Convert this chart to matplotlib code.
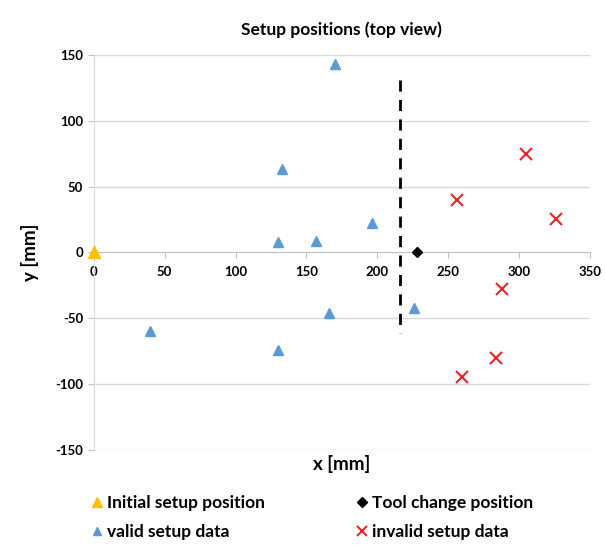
import matplotlib
matplotlib.use("Agg")
from matplotlib import pyplot as plt

plt.rcParams['font.family'] = ['Lato', 'DejaVu Sans']
plt.rcParams['font.weight'] = 'bold'
plt.rcParams['axes.unicode_minus'] = False

# setup positions
initial_x = [0]
initial_y = [0]
tool_x = [228]
tool_y = [0]
valid_x = [170, 133, 130, 157, 196, 40, 130, 166, 226]
valid_y = [143, 63, 8, 9, 22, -60, -74, -46, -42]
invalid_x = [305, 256, 326, 288, 284, 260]
invalid_y = [75, 40, 25, -28, -80, -95]
limit_x = [216, 216]
limit_y = [131, -61]

x_ticks = [0, 50, 100, 150, 200, 250, 300, 350]
y_ticks = [-150, -100, -50, 0, 50, 100, 150]

fig = plt.figure(figsize=(6.05, 5.48), dpi=100)
ax = fig.add_axes([0.155, 0.179, 0.82, 0.721])

for yv in y_ticks:
    if yv != 0:
        ax.axhline(yv, color='#d9d9d9', lw=1, zorder=0)

ax.plot(limit_x, limit_y, color='black', lw=2, ls=(0, (4, 3)), zorder=2)

h_init, = ax.plot(initial_x, initial_y, ls='none', marker='^', ms=8, color='#ffc000',
                  label='Initial setup position', zorder=4, clip_on=False)
h_valid, = ax.plot(valid_x, valid_y, ls='none', marker='^', ms=7, color='#5b9bd5',
                   label='valid setup data', zorder=3)
h_tool, = ax.plot(tool_x, tool_y, ls='none', marker='D', ms=5.5, color='black',
                  label='Tool change position', zorder=3)
h_inv, = ax.plot(invalid_x, invalid_y, ls='none', marker='x', ms=9, mew=1.5, color='#e8252b',
                 label='invalid setup data', zorder=3)

ax.set_xlim(0, 350)
ax.set_ylim(-150, 150)
ax.set_xticks(x_ticks)
ax.set_yticks(y_ticks)

ax.spines['top'].set_visible(False)
ax.spines['right'].set_visible(False)
ax.spines['bottom'].set_position(('data', 0))
ax.spines['bottom'].set_color('#bfbfbf')
ax.spines['left'].set_color('#d9d9d9')
ax.tick_params(axis='both', length=4, color='#bfbfbf', labelsize=9.5)
ax.tick_params(axis='x', pad=6)

ax.set_title('Setup positions (top view)', fontsize=12.5, fontweight='bold', pad=14)
ax.set_xlabel('x [mm]', fontsize=13.5, fontweight='bold')
ax.set_ylabel('y [mm]', fontsize=13.5, fontweight='bold')
ax.xaxis.set_label_coords(0.5, -0.012)
ax.yaxis.set_label_coords(-0.11, 0.5)

fig.legend(handles=[h_init, h_valid, h_tool, h_inv], ncol=2, loc='upper left',
           bbox_to_anchor=(0.12, 0.125), frameon=False, fontsize=12.5, markerscale=0.85,
           handletextpad=0.1, handlelength=1.0, columnspacing=5.05, labelspacing=0.75)

fig.savefig('out.png', dpi=100)
